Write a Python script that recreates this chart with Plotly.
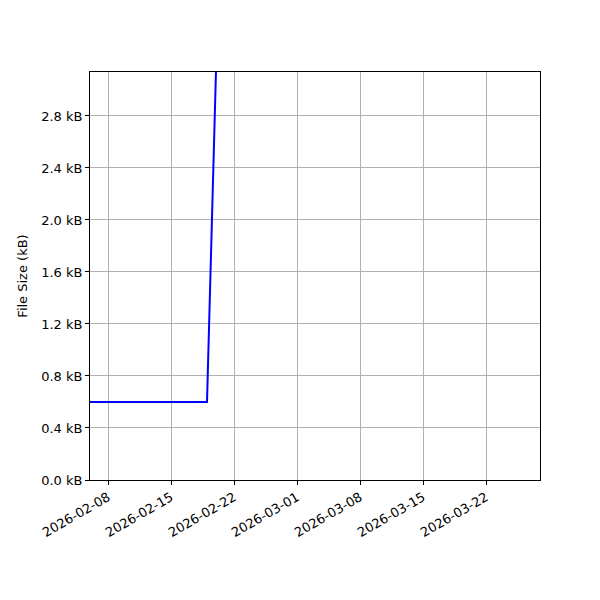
import plotly.graph_objects as go

# Data
# ===================================================
dates = ["2026-02-01", "2026-02-19", "2026-02-20", "2026-03-31"]
size_kb = [0.6, 0.6, 3.15, 3.4]

y_ticks = [0.0, 0.4, 0.8, 1.2, 1.6, 2.0, 2.4, 2.8]
y_labels = ["0.0 kB", "0.4 kB", "0.8 kB", "1.2 kB", "1.6 kB", "2.0 kB", "2.4 kB", "2.8 kB"]
x_ticks = ["2026-02-08", "2026-02-15", "2026-02-22", "2026-03-01",
           "2026-03-08", "2026-03-15", "2026-03-22"]

# Plot
# ===================================================
fig = go.Figure()

fig.add_trace(go.Scatter(
    x=dates,
    y=size_kb,
    mode="lines",
    line=dict(color="blue", width=2),
    showlegend=False
))

axis_style = dict(
    showline=True,
    linewidth=1,
    linecolor="black",
    mirror=True,
    showgrid=True,
    gridcolor="#b0b0b0",
    gridwidth=1,
    ticks="outside",
    ticklen=4,
    tickcolor="black",
    zeroline=False,
    tickfont=dict(family="DejaVu Sans", size=13, color="black")
)

# page is offset by the browser body margin, so margins compensate
fig.update_layout(
    width=600,
    height=600,
    margin=dict(l=82, r=68, t=64, b=128),
    plot_bgcolor="white",
    paper_bgcolor="white",
    font=dict(family="DejaVu Sans", size=13, color="black"),
    xaxis=dict(
        type="date",
        range=["2026-02-06", "2026-03-28"],
        tickvals=x_ticks,
        ticktext=x_ticks,
        tickangle=-30,
        **axis_style
    ),
    yaxis=dict(
        range=[0, 3.138],
        tickvals=y_ticks,
        ticktext=y_labels,
        title=dict(text="File Size (kB)", standoff=10,
                   font=dict(family="DejaVu Sans", size=13)),
        **axis_style
    )
)

fig.write_html("out.html")
